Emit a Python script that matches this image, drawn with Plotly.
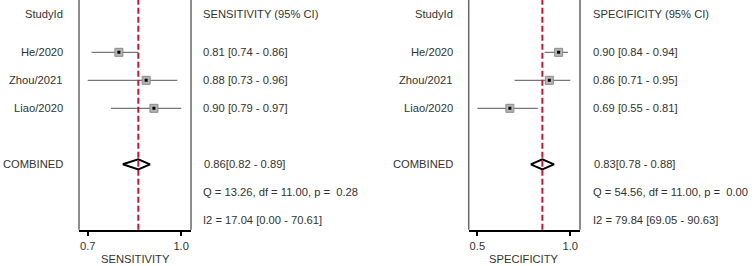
import plotly.graph_objects as go

# ---- data ----
studies = ["He/2020", "Zhou/2021", "Liao/2020"]
sens = [0.81, 0.88, 0.90]
sens_lo = [0.74, 0.73, 0.79]
sens_hi = [0.86, 0.96, 0.97]
sens_pool = [0.86, 0.82, 0.89]
sens_q = "Q = 13.26, df = 11.00, p =  0.28"
sens_i2 = "I2 = 17.04 [0.00 - 70.61]"
sens_ticklabels = ["0.7", "1.0"]

spec = [0.90, 0.86, 0.69]
spec_lo = [0.84, 0.71, 0.55]
spec_hi = [0.94, 0.95, 0.81]
spec_pool = [0.83, 0.78, 0.88]
spec_q = "Q = 54.56, df = 11.00, p =  0.00"
spec_i2 = "I2 = 79.84 [69.05 - 90.63]"
spec_ticklabels = ["0.5", "1.0"]

W, H = 756, 266
FONT = "Liberation Sans, Arial, sans-serif"
TXT = "#333333"
FS = 11.2

rows = [1, 2, 3]
row_comb, row_q, row_i2, row_head = 5, 6, 7, -0.37

fig = go.Figure()

panels = [
    dict(ax="x", est=sens, lo=sens_lo, hi=sens_hi, pool=sens_pool,
         q=sens_q, i2=sens_i2, name="SENSITIVITY", ticks=sens_ticklabels,
         dom=(79, 191), lab_x=65, col_x=201),
    dict(ax="x2", est=spec, lo=spec_lo, hi=spec_hi, pool=spec_pool,
         q=spec_q, i2=spec_i2, name="SPECIFICITY", ticks=spec_ticklabels,
         dom=(468.7, 580), lab_x=455, col_x=591),
]

annotations = []
shapes = []


def ann(x, y, t, anchor, yref="y"):
    annotations.append(dict(x=x, y=y, xref="paper", yref=yref, text=t, showarrow=False,
                            xanchor=anchor, yanchor="middle",
                            font=dict(family=FONT, size=FS, color=TXT)))


for p in panels:
    xa = p["ax"]
    for r, lo, hi in zip(rows, p["lo"], p["hi"]):
        fig.add_trace(go.Scatter(x=[lo, hi], y=[r, r], mode="lines",
                                 line=dict(color="#555555", width=1),
                                 xaxis=xa, yaxis="y", showlegend=False,
                                 hoverinfo="skip"))
    fig.add_trace(go.Scatter(x=p["est"], y=rows, mode="markers",
                             marker=dict(symbol="square", size=8, color="#b4b4b4",
                                         line=dict(color="#8a8a8a", width=1)),
                             xaxis=xa, yaxis="y", showlegend=False))
    fig.add_trace(go.Scatter(x=p["est"], y=rows, mode="markers",
                             marker=dict(symbol="square", size=3, color="#000000"),
                             xaxis=xa, yaxis="y", showlegend=False))
    e, l, h = p["pool"]
    dh = 0.18
    fig.add_trace(go.Scatter(x=[l, e, h, e, l],
                             y=[row_comb, row_comb - dh, row_comb, row_comb + dh, row_comb],
                             mode="lines", fill="toself", fillcolor="white",
                             line=dict(color="black", width=2),
                             xaxis=xa, yaxis="y", showlegend=False))
    dref = xa + " domain"
    for xd in (0, 1):
        shapes.append(dict(type="line", xref=dref, yref="y domain", x0=xd, x1=xd, y0=0, y1=1,
                           line=dict(color="#666666", width=1.5), layer="below"))
    shapes.append(dict(type="line", xref=xa, yref="y domain", x0=e, x1=e, y0=0, y1=1,
                       line=dict(color="#c8143c", width=2, dash="6px,3px"), layer="above"))
    lx = p["lab_x"] / W
    cx = p["col_x"] / W
    ann(lx, row_head, "StudyId", "right")
    ann(cx, row_head, f"{p['name']} (95% CI)", "left")
    for r, s, est, lo, hi in zip(rows, studies, p["est"], p["lo"], p["hi"]):
        ann(lx, r, s, "right")
        ann(cx, r, f"{est:.2f} [{lo:.2f} - {hi:.2f}]", "left")
    ann(lx, row_comb, "COMBINED", "right")
    ann(cx + 1 / W, row_comb, f"{e:.2f}[{l:.2f} - {h:.2f}]", "left")
    ann(cx, row_q, p["q"], "left")
    ann(cx, row_i2, p["i2"], "left")
    ann((p["dom"][0] + p["dom"][1]) / 2 / W, 1 - 258.5 / H, p["name"], "center", yref="paper")


def xaxis_cfg(p):
    lo_all = min(p["lo"])
    hi_all = max(p["hi"])
    span = hi_all - lo_all
    return dict(domain=[p["dom"][0] / W, p["dom"][1] / W],
                range=[lo_all - 0.093 * span, hi_all + 0.105 * span],
                tickvals=[lo_all, hi_all],
                ticktext=p["ticks"],
                showline=True, linecolor="black", linewidth=1.5,
                ticks="outside", ticklen=5, tickwidth=2, tickcolor="black",
                showgrid=False, zeroline=False, anchor="y",
                tickfont=dict(family=FONT, size=FS, color=TXT))


fig.update_layout(
    width=W, height=H,
    margin=dict(l=0, r=0, t=0, b=0),
    paper_bgcolor="white", plot_bgcolor="white",
    xaxis=xaxis_cfg(panels[0]),
    xaxis2=xaxis_cfg(panels[1]),
    yaxis=dict(domain=[(H - 229.7) / H, 1], range=[7.336, -0.868],
               visible=False, showgrid=False, zeroline=False),
    shapes=shapes, annotations=annotations,
    showlegend=False,
)

fig.write_html("out.html", config={"displayModeBar": False},
               post_script="document.body.style.margin='0';")
